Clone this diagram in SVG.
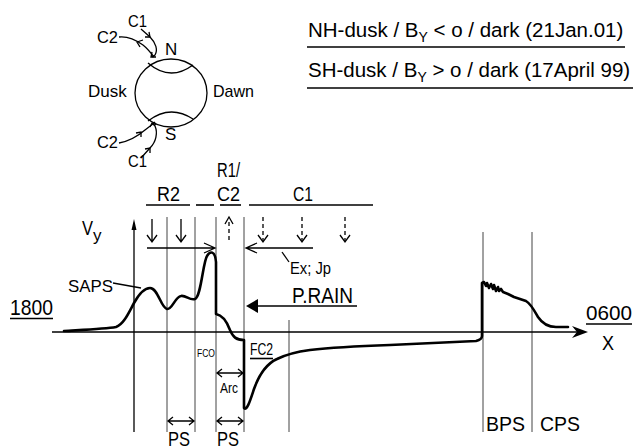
<svg xmlns="http://www.w3.org/2000/svg" width="633" height="447" viewBox="0 0 633 447">
<style>
.t{font-family:"Liberation Sans",Arial,Helvetica,sans-serif;fill:#000}
.thin{stroke:#444;stroke-width:1;fill:none}
.ln{stroke:#000;stroke-width:1.3;fill:none}
.ul{stroke:#000;stroke-width:1.6;fill:none}
.dash{stroke:#000;stroke-width:1.3;fill:none;stroke-dasharray:4,3}
.curve{stroke:#000;stroke-width:2.6;fill:none;stroke-linejoin:round;stroke-linecap:round}
.fill{fill:#000;stroke:none}
</style>
<rect width="633" height="447" fill="#fff"/>

<g id="globe">
  <ellipse cx="171" cy="93" rx="36" ry="34" class="ln" stroke-width="1.2"/>
  <path d="M148,63 Q170,82 193,65" class="ln" stroke-width="1.1"/>
  <path d="M148,121 Q170,104 193,119" class="ln" stroke-width="1.1"/>
  <text class="t" x="88" y="97" font-size="17">Dusk</text>
  <text class="t" x="213" y="97" font-size="17" textLength="41" lengthAdjust="spacingAndGlyphs">Dawn</text>
  <text class="t" x="165" y="55" font-size="17">N</text>
  <text class="t" x="165" y="140" font-size="17">S</text>
</g>

<g id="currents-north">
  <text class="t" x="128" y="27" font-size="17" textLength="19" lengthAdjust="spacingAndGlyphs">C1</text>
  <text class="t" x="97" y="43" font-size="17" textLength="21" lengthAdjust="spacingAndGlyphs">C2</text>
  <path d="M119,37 C128,36 136,40 143,45 C148,49 151,53 154,57" class="ln" stroke-width="1"/>
  <path d="M143,40 L137,42 L140,47" class="ln" stroke-width="1"/>
  <path d="M141,29 L150,37 C156,43 158,50 155,55 L152,57" class="ln" stroke-width="1"/>
  <path d="M145,37 L150,37 L149,32" class="ln" stroke-width="1"/>
  <path d="M152,52 L151,57 L156,57" class="ln" stroke-width="1"/>
</g>

<g id="currents-south">
  <text class="t" x="97" y="148" font-size="17" textLength="21" lengthAdjust="spacingAndGlyphs">C2</text>
  <text class="t" x="128" y="167" font-size="17" textLength="19" lengthAdjust="spacingAndGlyphs">C1</text>
  <path d="M119,143 C130,141 138,136 145,130 C150,126 153,124 155,122" class="ln" stroke-width="1"/>
  <path d="M136,133 L141,132 L141,137" class="ln" stroke-width="1"/>
  <path d="M141,158 L150,148 C156,142 158,133 155,126 L152,123" class="ln" stroke-width="1"/>
  <path d="M145,149 L150,148 L150,153" class="ln" stroke-width="1"/>
  <path d="M150,127 L152,123 L156,125" class="ln" stroke-width="1"/>
</g>

<g id="titles">
  <text class="t" x="308" y="37" font-size="20.5">NH-dusk / B<tspan font-size="14" dy="5">Y</tspan><tspan dy="-5"> &lt; o / dark (21Jan.01)</tspan></text>
  <line x1="307" y1="47" x2="625" y2="47" class="ul" stroke-width="2"/>
  <text class="t" x="308" y="77" font-size="20.5">SH-dusk / B<tspan font-size="14" dy="5">Y</tspan><tspan dy="-5"> &gt; o / dark (17April 99)</tspan></text>
  <line x1="307" y1="88" x2="633" y2="88" class="ul" stroke-width="2"/>
</g>

<g id="region-labels">
  <text class="t" x="157" y="201" font-size="20" textLength="23" lengthAdjust="spacingAndGlyphs">R2</text>
  <text class="t" x="217" y="177" font-size="20" textLength="23" lengthAdjust="spacingAndGlyphs">R1/</text>
  <text class="t" x="217" y="201" font-size="20" textLength="23" lengthAdjust="spacingAndGlyphs">C2</text>
  <text class="t" x="293" y="201" font-size="20" textLength="20" lengthAdjust="spacingAndGlyphs">C1</text>
  <line x1="146" y1="205" x2="190" y2="205" class="ul"/>
  <line x1="196" y1="205" x2="214" y2="205" class="ul"/>
  <line x1="220" y1="205" x2="241" y2="205" class="ul"/>
  <line x1="249" y1="205" x2="373" y2="205" class="ul"/>
</g>

<g id="grid">
  <line x1="167" y1="217" x2="167" y2="432" class="thin"/>
  <line x1="195" y1="217" x2="195" y2="432" class="thin"/>
  <line x1="216" y1="217" x2="216" y2="432" class="thin"/>
  <line x1="244" y1="217" x2="244" y2="432" class="thin"/>
  <line x1="289" y1="320" x2="289" y2="432" class="thin"/>
  <line x1="483" y1="232" x2="483" y2="432" class="thin"/>
  <line x1="532" y1="232" x2="532" y2="432" class="thin"/>
</g>

<g id="axes">
  <line x1="134" y1="226" x2="134" y2="432" class="ln"/>
  <polygon points="134,219 131.5,230 136.5,230" class="fill"/>
  <line x1="52" y1="332" x2="578" y2="332" class="ln" stroke-width="1.5"/>
  <polygon points="588,332 572,326 577,332 572,338" class="fill"/>
  <text class="t" x="82" y="235" font-size="21"><tspan textLength="11" lengthAdjust="spacingAndGlyphs">V</tspan><tspan font-size="17" dy="6">y</tspan></text>
  <text class="t" x="10" y="315" font-size="22" textLength="43" lengthAdjust="spacingAndGlyphs">1800</text>
  <line x1="10" y1="318.5" x2="53" y2="318.5" class="ul" stroke-width="2"/>
  <text class="t" x="586" y="320" font-size="21" textLength="46" lengthAdjust="spacingAndGlyphs">0600</text>
  <line x1="586" y1="324" x2="632" y2="324" class="ul" stroke-width="2"/>
  <text class="t" x="602" y="350" font-size="21" textLength="12" lengthAdjust="spacingAndGlyphs">X</text>
</g>

<g id="connectors">
  <path d="M152,219 V242 M147,235 L152,242 L157,235" class="ln"/>
  <path d="M181,219 V242 M176,235 L181,242 L186,235" class="ln"/>
  <path d="M229,240 V219" class="dash"/>
  <path d="M225,224 L229,217 L233,224" class="ln"/>
  <path d="M263,217 V241" class="dash"/>
  <path d="M258,235 L263,242 L268,235" class="ln"/>
  <path d="M302,217 V241" class="dash"/>
  <path d="M297,235 L302,242 L307,235" class="ln"/>
  <path d="M345,217 V241" class="dash"/>
  <path d="M340,235 L345,242 L350,235" class="ln"/>
  <path d="M147,248 H214 M204,243 L215,248 L204,253" class="ln"/>
  <path d="M313,248 H247 M257,243 L246,248 L257,253" class="ln"/>
  <line x1="282" y1="252" x2="289" y2="262" class="ln" stroke-width="1"/>
  <line x1="113" y1="283" x2="141" y2="288" class="ln" stroke-width="1"/>
  <line x1="255" y1="306" x2="357" y2="306" class="ln" stroke-width="1.6"/>
  <polygon points="246,306 258,299 258,313" class="fill"/>
  <path d="M217,373 H243 M222,369 L217,373 L222,377 M238,369 L243,373 L238,377" class="ln"/>
  <path d="M168,421 H194 M173,417 L168,421 L173,425 M189,417 L194,421 L189,425" class="ln"/>
  <path d="M217,421 H243 M222,417 L217,421 L222,425 M238,417 L243,421 L238,425" class="ln"/>
</g>

<g id="curve">
  <path class="curve" d="M64,331 C80,330 105,329 116,327 C124,324 129,312 134,303 C139,294 144,288 150,288 C158,288 161,308 167,309 C172,310 175,297 181,296 C186,295 190,301 195,299 C201,297 203,262 207,256 C210,251 215,250 216,262 L216,314 C222,315 227,322 230,330 C233,337 236,340 244,340 L244,408 C247,411 250,401 254,389 C259,375 266,364 277,359 C285,355 295,352 310,350 C335,347 360,346 390,345 L476,341 C480,340 482,339 482,336 L482,283 L484,282 L486,286 L487,283 L489,288 L491,284 L493,289 L494,285 L496,291 L498,287 L499,291 L501,289 L503,292 L508,294 L514,297 L520,299 L526,301 C531,304 534,310 538,317 C542,323 548,327 556,327 L568,327"/>
</g>

<g id="labels">
  <text class="t" x="68" y="292" font-size="17" textLength="45" lengthAdjust="spacingAndGlyphs">SAPS</text>
  <text class="t" x="290" y="274" font-size="16" textLength="41" lengthAdjust="spacingAndGlyphs">Ex; Jp</text>
  <text class="t" x="292" y="303" font-size="22" textLength="61" lengthAdjust="spacingAndGlyphs">P.RAIN</text>
  <text class="t" x="197" y="357" font-size="10" textLength="18" lengthAdjust="spacingAndGlyphs">FCO</text>
  <text class="t" x="250" y="355" font-size="16" textLength="23" lengthAdjust="spacingAndGlyphs">FC2</text>
  <line x1="250" y1="358.5" x2="273" y2="358.5" class="ul"/>
  <text class="t" x="220" y="393" font-size="15" textLength="18" lengthAdjust="spacingAndGlyphs">Arc</text>
  <text class="t" x="168" y="446" font-size="21" textLength="22" lengthAdjust="spacingAndGlyphs">PS</text>
  <text class="t" x="217" y="446" font-size="21" textLength="22" lengthAdjust="spacingAndGlyphs">PS</text>
  <text class="t" x="486" y="431" font-size="21" textLength="39" lengthAdjust="spacingAndGlyphs">BPS</text>
  <text class="t" x="540" y="431" font-size="21" textLength="40" lengthAdjust="spacingAndGlyphs">CPS</text>
</g>
</svg>
